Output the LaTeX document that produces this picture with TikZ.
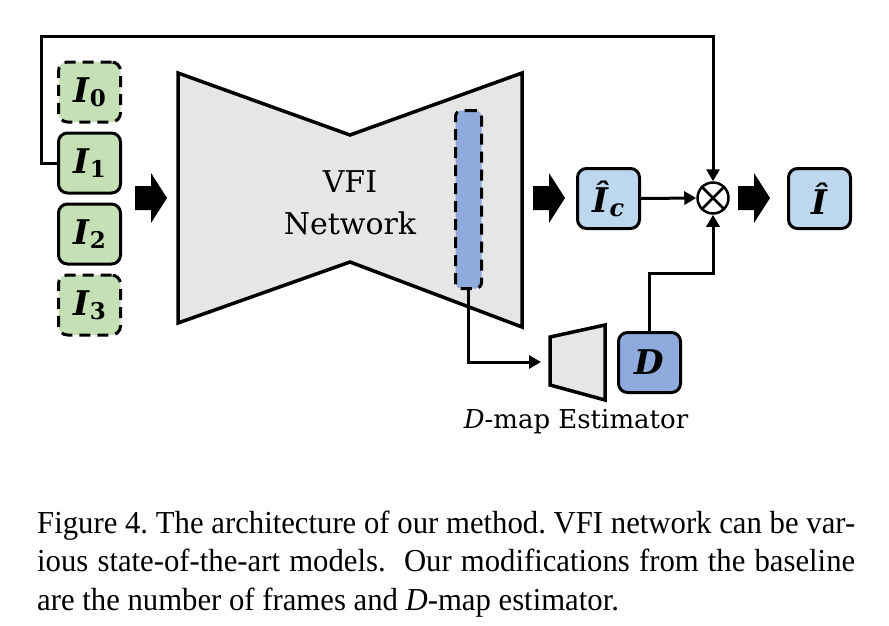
\documentclass[tikz,border=0pt]{standalone}
\usepackage{fontspec}
\newfontfamily\capfont[FakeStretch=0.96]{Liberation Serif}
\newfontfamily\dvserif{DejaVu Serif}
\usetikzlibrary{arrows.meta}
\definecolor{gfill}{HTML}{C5E0B4}
\definecolor{lbfill}{HTML}{BDD7EE}
\definecolor{mbfill}{HTML}{8FAADC}
\definecolor{grfill}{HTML}{E6E6E6}
\newcommand{\symI}[1]{{\bfseries\itshape I}\kern1pt\raisebox{-4pt}{\fontsize{23}{23}\selectfont\bfseries #1}}
\tikzset{
  frame/.style={draw, line width=3pt, rounded corners=9pt, minimum width=62pt, minimum height=60pt, inner sep=0pt, font=\dvserif\fontsize{34}{34}\selectfont},
  inbox/.style={frame, fill=gfill},
  dashbox/.style={inbox, dash pattern=on 11pt off 7pt},
  outbox/.style={frame, fill=lbfill},
  dbox/.style={frame, fill=mbfill},
  conn/.style={line width=3pt},
  arr/.style={conn, -{Triangle[length=12pt,width=13pt]}},
  netshape/.style={draw, line width=3.5pt, fill=grfill, line join=miter},
  barbox/.style={draw, line width=3pt, dash pattern=on 11pt off 7pt, fill=mbfill, rounded corners=6pt, minimum width=26pt, minimum height=178pt, inner sep=0pt},
  mult/.style={draw, circle, line width=2.5pt, minimum size=31pt, inner sep=0pt},
  lab/.style={font=\dvserif\fontsize{30}{42}\selectfont, align=center}
}
\newcommand{\fatarrow}[2]{\fill (#1,#2) ++(0,-12) -- ++(16,0) -- ++(0,-13) -- ++(16,25) -- ++(-16,25) -- ++(0,-13) -- ++(-16,0) -- cycle;}
\begin{document}
\begin{tikzpicture}[x=1pt,y=-1pt]
\useasboundingbox (0,0) rectangle (889,625);
% VFI network bowtie
\draw[netshape] (178,73) -- (350,135) -- (522,73) -- (522,327) -- (350,262) -- (178,323) -- cycle;
\node[lab] (vfi) at (350,203) {VFI\\Network};
\node[barbox] (bar) at (468.5,199.5) {};
% inputs
\node[dashbox] (i0) at (89.5,92) {\symI{0}};
\node[inbox] (i1) at (89.5,163) {\symI{1}};
\node[inbox] (i2) at (89.5,234) {\symI{2}};
\node[dashbox] (i3) at (89.5,305) {\symI{3}};
% fat arrows
\fatarrow{135}{198}
\fatarrow{533}{198}
\fatarrow{738}{198}
% outputs
\node[outbox] (ic) at (608.5,198.5) {{\bfseries\itshape Î}\kern1pt\raisebox{-4pt}{\fontsize{24}{24}\selectfont\bfseries\itshape c}};
\node[mult] (m) at (713,198) {};
\draw[line width=2.5pt] (m.45) -- (m.225) (m.135) -- (m.315);
\node[outbox] (io) at (819.5,198.5) {\bfseries\itshape Î};
% D-map estimator
\draw[netshape] (550,337) -- (605,325) -- (605,400) -- (550,385) -- cycle;
\coordinate (est) at (541,362);
\node[dbox] (d) at (649.5,362.5) {\bfseries\itshape D};
\node[font=\dvserif\fontsize{26}{26}\selectfont, anchor=base] (estl) at (576,428) {\textit{D}-map Estimator};
% connectors
\draw[arr] (i1.west) -| (41,36) -| (m.north);
\draw[arr] (ic.east) -- (m.west);
\draw[arr] (d.north) -- ++(0,-58) -| (m.south);
\draw[arr] (bar.south) |- (est);
% caption
\node[anchor=base west, inner sep=0pt] (cap) at (37,533) {\begin{minipage}[t]{818pt}\capfont\fontsize{32}{38.5}\selectfont\frenchspacing\hyphenpenalty=10000
Figure 4. The architecture of our method. VFI network can be var-\linebreak
ious state-of-the-art models.\ \ Our modifications from the baseline\linebreak
are the number of frames and \textit{D}-map estimator.\end{minipage}};
\end{tikzpicture}
\end{document}
